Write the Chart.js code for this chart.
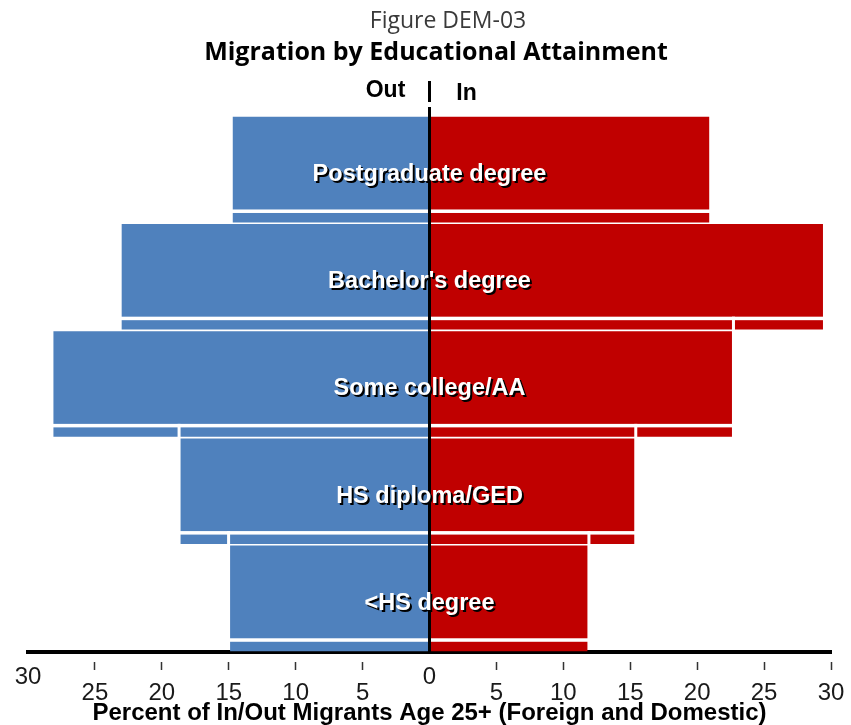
<!DOCTYPE html>
<html>
<head>
<meta charset="utf-8">
<script src="https://cdn.jsdelivr.net/npm/chart.js@4.4.1/dist/chart.umd.min.js"></script>
<style>
  html, body { margin: 0; padding: 0; background: #fff; }
  #wrap { width: 851px; height: 725px; }
</style>
</head>
<body>
<div id="wrap"><canvas id="chart" width="851" height="725"></canvas></div>
<script>
const categories = ["Postgraduate degree", "Bachelor's degree", "Some college/AA", "HS diploma/GED", "<HS degree"];
const outValues = [14.7, 23.0, 28.1, 18.6, 14.9];
const inValues = [20.9, 29.4, 22.6, 15.3, 11.8];
const tickValues = [-30, -25, -20, -15, -10, -5, 0, 5, 10, 15, 20, 25, 30];

const BLUE = "#4f81bd";
const RED = "#c00000";

// white split line near the bottom of each band + notches, zero line, labels, titles
const decorations = {
  id: "decorations",
  afterDatasetsDraw(chart) {
    const { ctx, chartArea } = chart;
    const x = chart.scales.x;
    const y = chart.scales.y;
    const band = y.getPixelForValue(1) - y.getPixelForValue(0);
    const x0 = x.getPixelForValue(0);
    ctx.save();

    categories.forEach((c, i) => {
      const top = y.getPixelForValue(i) - band / 2;
      const sepTop = top + band * 0.872;
      const sepH = 3.5;
      ctx.fillStyle = "#fff";
      ctx.fillRect(chartArea.left - 5, sepTop, chartArea.width + 10, sepH);
      if (i < categories.length - 1) {
        const bottom = top + band;
        if (outValues[i + 1] < outValues[i]) {
          const px = x.getPixelForValue(-outValues[i + 1]);
          ctx.fillRect(px - 3, sepTop, 3, bottom - sepTop);
        }
        if (inValues[i + 1] < inValues[i]) {
          const px = x.getPixelForValue(inValues[i + 1]);
          ctx.fillRect(px, sepTop, 3, bottom - sepTop);
        }
      }
    });

    // zero line
    ctx.fillStyle = "#000";
    ctx.fillRect(x0 - 1.5, chartArea.top - 9, 3, chartArea.bottom - chartArea.top + 11);

    // category labels
    ctx.font = "bold 23.5px 'Liberation Sans', Arial, sans-serif";
    ctx.textAlign = "center";
    ctx.textBaseline = "middle";
    categories.forEach((c, i) => {
      const cy = y.getPixelForValue(i) + 5;
      ctx.fillStyle = "#000";
      ctx.fillText(c, x0 + 2, cy + 2);
      ctx.fillStyle = "#fff";
      ctx.fillText(c, x0, cy);
    });

    // Out | In header
    const hy = chartArea.top - 23;
    ctx.fillStyle = "#000";
    ctx.font = "bold 23px 'Liberation Sans', Arial, sans-serif";
    ctx.fillText("Out", x0 - 44, hy - 2);
    ctx.fillText("In", x0 + 37, hy + 1);
    ctx.fillRect(x0 - 1.5, hy - 12, 3, 21);

    // titles
    ctx.fillStyle = "#3a3a3a";
    ctx.font = "23px 'Open Sans', sans-serif";
    ctx.fillText("Figure DEM-03", 448, 21);
    ctx.fillStyle = "#000";
    ctx.font = "bold 25px 'Open Sans', sans-serif";
    ctx.fillText("Migration by Educational Attainment", 436, 53);
    ctx.restore();
  }
};

new Chart(document.getElementById("chart"), {
  type: "bar",
  data: {
    labels: categories,
    datasets: [
      { label: "Out", data: outValues.map(v => -v), backgroundColor: BLUE },
      { label: "In", data: inValues, backgroundColor: RED }
    ]
  },
  options: {
    indexAxis: "y",
    responsive: false,
    animation: false,
    devicePixelRatio: 1,
    barPercentage: 1,
    categoryPercentage: 0.985,
    layout: { padding: { left: 28, right: 20, top: 116, bottom: 0 } },
    plugins: {
      legend: { display: false },
      tooltip: { enabled: false }
    },
    scales: {
      y: {
        stacked: true,
        display: false
      },
      x: {
        stacked: true,
        min: -30,
        max: 30,
        afterBuildTicks(scale) {
          scale.ticks = tickValues.map(v => ({ value: v }));
        },
        border: { display: true, color: "#000", width: 4 },
        grid: {
          drawOnChartArea: false,
          drawTicks: true,
          tickLength: 20,
          tickWidth: 1.5,
          tickBorderDash: [0, 8, 8, 40],
          tickColor: ctx => (ctx.tick && (ctx.tick.value === 0 || ctx.tick.value === -30)) ? "rgba(0,0,0,0)" : "#333"
        },
        ticks: {
          autoSkip: false,
          maxRotation: 0,
          padding: -2,
          color: "#1a1a1a",
          font: { family: "'Liberation Sans', Arial, sans-serif", size: 24, lineHeight: 0.65 },
          callback: v => (v === 0 || v === -30) ? String(Math.abs(v)) : ["", String(Math.abs(v))]
        },
        title: {
          display: true,
          text: "Percent of In/Out Migrants Age 25+ (Foreign and Domestic)",
          color: "#000",
          font: { family: "'Liberation Sans', Arial, sans-serif", size: 24, weight: "bold" },
          padding: { top: 0, bottom: -3 }
        }
      }
    }
  },
  plugins: [decorations]
});
</script>
</body>
</html>
